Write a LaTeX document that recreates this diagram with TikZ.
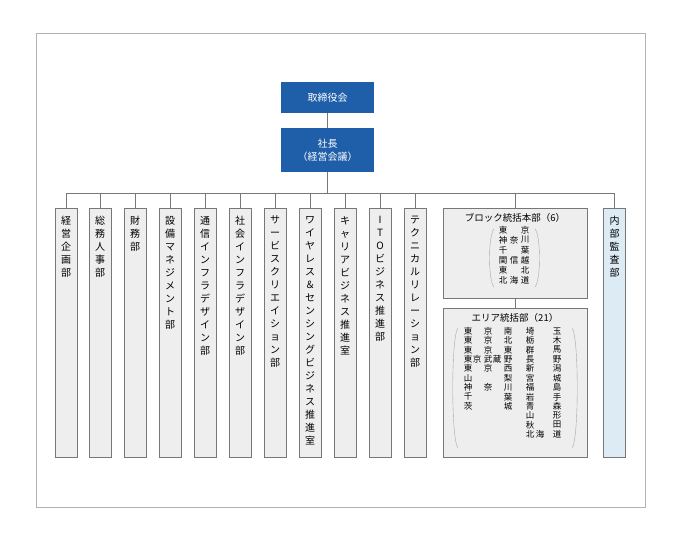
\documentclass[tikz,border=0pt]{standalone}
\usepackage{fontspec}
\setmainfont{Noto Sans CJK JP}
\XeTeXlinebreaklocale "ja"
\definecolor{bossblue}{HTML}{1F5EA8}
\definecolor{deptgray}{HTML}{EEEEEE}
\definecolor{linegray}{HTML}{777777}
\definecolor{auditblue}{HTML}{DDEBF4}
\tikzset{
  top/.style={rectangle, fill=bossblue, text=white, minimum width=93pt, font=\fontsize{10}{13}\selectfont, align=center},
  dept/.style={rectangle, draw=linegray, fill=deptgray, minimum width=22pt, minimum height=249pt, anchor=north},
  vlabel/.style={anchor=north, text width=10pt, align=center, inner sep=0pt, font=\fontsize{10}{13}\selectfont},
  group/.style={rectangle, draw=linegray, fill=deptgray, minimum width=144pt, anchor=north},
  small/.style={inner sep=0pt, font=\fontsize{8.5}{9}\selectfont},
  wire/.style={draw=linegray, line width=0.6pt}
}
\begin{document}
\begin{tikzpicture}[x=1pt, y=-1pt]
  \useasboundingbox (0,0) rectangle (680,537);
  \draw[gray!60] (36,33) rectangle (645,507);
  % top
  \node (board) at (327.5,97.5) [top, minimum height=31pt] {取締役会};
  \node (ceo) at (327.5,150) [top, minimum height=44pt] {社長\\（経営会議）};
  \path[wire] (board) -- (ceo);
  \coordinate (bus) at (327.5,193);
  \path[wire] (ceo.south) -- (bus);
  \path[wire] (66,193) -- (614.5,193);
  % departments
  \foreach \name/\x/\txt in {d1/66/経営企画部, d2/100/総務人事部, d3/135/財務部,
      d4/170/設備マネジメント部, d5/205/通信インフラデザイン部, d6/240/社会インフラデザイン部,
      d7/275/サービスクリエイション部, d8/310/ワイヤレス＆センシングビジネス推進室,
      d9/345/キャリアビジネス推進室, d10/380/I T Oビジネス推進部, d11/415/テクニカルリレーション部}{
    \node (\name) at (\x,208) [dept] {};
    \node at (\x,216) [vlabel] {\txt};
    \path[wire] (\x,193) -- (\name.north);
  }
  \node (audit) at (614.5,208) [dept, fill=auditblue] {};
  \node at (614.5,216) [vlabel] {内部監査部};
  \path[wire] (614.5,193) -- (audit.north);
  % block / area
  \node (block) at (515,208) [group, minimum height=90pt] {};
  \node (area) at (515,308) [group, minimum height=149pt] {};
  \path[wire] (515,193) -- (block.north);
  \path[wire] (block.south) -- (area.north);
  \node (blocktitle) at (515,218) [font=\fontsize{9.5}{10}\selectfont] {ブロック統括本部（6）};
  \foreach \r/\a/\b/\c in {0/東//京, 1/神/奈/川, 2/千//葉, 3/関/信/越, 4/東//北, 5/北/海/道}{
    \node[small] at (503,{230+\r*10}) {\a};
    \node[small] at (514,{230+\r*10}) {\b};
    \node[small] at (525,{230+\r*10}) {\c};
  }
  \draw[gray!70] (494,229) .. controls (488,236) and (488,280) .. (494,287);
  \draw[gray!70] (535,229) .. controls (541,236) and (541,280) .. (535,287);
  \node (areatitle) at (515,318) [font=\fontsize{9.5}{10}\selectfont] {エリア統括部（21）};
  \foreach \col/\x in {東東東東東山神千茨/468, 南北東野西梨川葉城/508, 埼栃群長新宮福岩青山秋北/530, 玉木馬野潟城島手森形田道/557}{
    \foreach [count=\r from 0] \ch in \col { }
  }
  \foreach \x/\r/\ch in {
    468/0/東, 468/1/東, 468/2/東, 468/3/東, 468/4/東, 468/5/山, 468/6/神, 468/7/千, 468/8/茨,
    477/3/京,
    488/0/京, 488/1/京, 488/2/京, 488/3/武, 488/4/京, 488/6/奈,
    497/3/蔵,
    508/0/南, 508/1/北, 508/2/東, 508/3/野, 508/4/西, 508/5/梨, 508/6/川, 508/7/葉, 508/8/城,
    530/0/埼, 530/1/栃, 530/2/群, 530/3/長, 530/4/新, 530/5/宮, 530/6/福, 530/7/岩, 530/8/青, 530/9/山, 530/10/秋, 530/11/北,
    540/11/海,
    557/0/玉, 557/1/木, 557/2/馬, 557/3/野, 557/4/潟, 557/5/城, 557/6/島, 557/7/手, 557/8/森, 557/9/形, 557/10/田, 557/11/道}{
    \node[small] at (\x,{331+\r*9.4}) {\ch};
  }
  \draw[gray!70] (458,328) .. controls (451,336) and (451,440) .. (458,448);
  \draw[gray!70] (572,328) .. controls (579,336) and (579,440) .. (572,448);
\end{tikzpicture}
\end{document}
